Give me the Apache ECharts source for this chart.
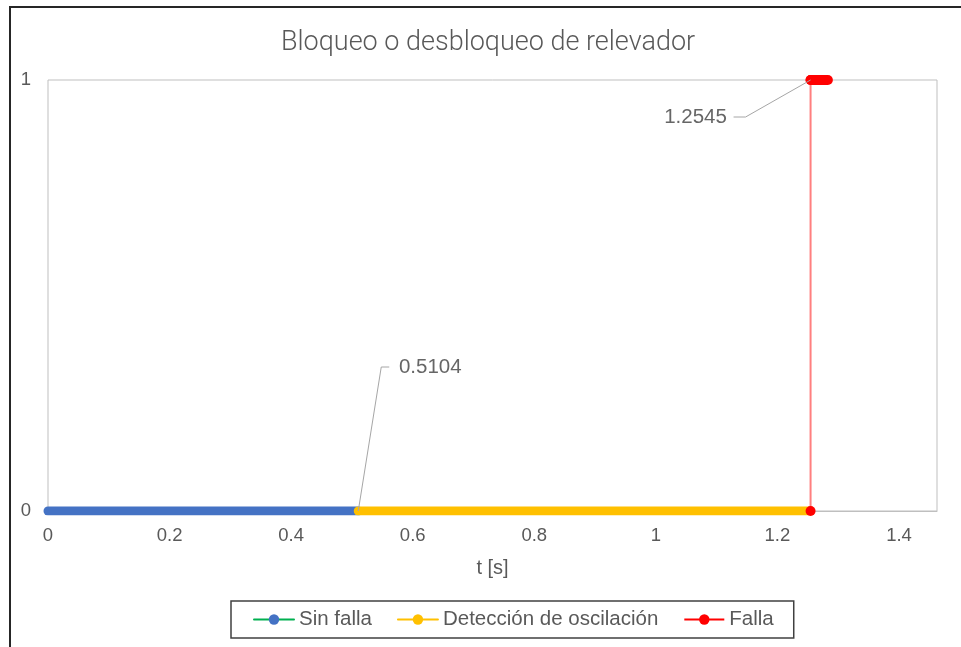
<!DOCTYPE html>
<html>
<head>
<meta charset="utf-8">
<title>Bloqueo o desbloqueo de relevador</title>
<script src="https://cdn.jsdelivr.net/npm/echarts@6/dist/echarts.min.js"></script>
<style>
  html, body { margin: 0; padding: 0; background: #fff; overflow: hidden; }
  #chart { position: absolute; left: 0; top: 0; width: 961px; height: 647px; }
  #frame {
    position: absolute; left: 9px; top: 6px; width: 1000px; height: 700px;
    border-left: 2px solid #262626; border-top: 2px solid #262626;
    pointer-events: none;
  }
</style>
</head>
<body>
<div id="chart"></div>
<div id="frame"></div>
<script>
// Relay state segments: [t (s), state]
const sinFalla = [[0, 0], [0.5104, 0]];
const deteccion = [[0.5104, 0], [1.2545, 0]];
const fallaSalto = [[1.2545, 0], [1.2545, 1]];
const fallaBloqueo = [[1.2545, 1], [1.283, 1]];
// Switching instants that get a value label
const transiciones = [[0.5104, 0], [1.2545, 1]];

const xTicks = { min: 0, max: 1.4625, interval: 0.2 };
const yTicks = { min: 0, max: 1, interval: 1 };

const FONT = '"Liberation Sans", Arial, sans-serif';
const GRAY = '#595959';

// Label offsets (px) from each switching point, and the elbow of its leader line
const labelOffset = [[72, -144], [-115, 37]];
const leaderBends = [
  [[23, -144], [31, -144]],
  [[-65, 37], [-77, 37]]
];

const chart = echarts.init(document.getElementById('chart'), null, { renderer: 'canvas' });

chart.setOption({
  animation: false,
  backgroundColor: '#ffffff',
  title: {
    text: 'Bloqueo o desbloqueo de relevador',
    left: 281,
    top: 30,
    padding: 0,
    textStyle: { fontFamily: 'Roboto, ' + FONT, fontWeight: 300, fontSize: 27, color: GRAY }
  },
  grid: {
    left: 48, right: 24, top: 80, bottom: 136,
    show: true, borderColor: '#BFBFBF', borderWidth: 1
  },
  legend: {
    left: 231, top: 601,
    padding: [8, 20, 8, 22],
    itemGap: 25,
    itemWidth: 40, itemHeight: 13,
    borderColor: '#404040', borderWidth: 1.5,
    textStyle: { fontFamily: FONT, fontSize: 20.5, color: GRAY },
    data: [
      { name: 'Sin falla', lineStyle: { color: '#00B050', width: 2, opacity: 1 }, itemStyle: { color: '#4472C4' } },
      { name: 'Detección de oscilación', lineStyle: { color: '#FFC000', width: 2, opacity: 1 }, itemStyle: { color: '#FFC000' } },
      { name: 'Falla', lineStyle: { color: '#FF0000', width: 2, opacity: 1 }, itemStyle: { color: '#FF0000' } }
    ]
  },
  xAxis: {
    type: 'value',
    min: xTicks.min, max: xTicks.max, interval: xTicks.interval,
    name: 't [s]',
    nameLocation: 'middle',
    nameGap: 47,
    nameTextStyle: { fontFamily: FONT, fontSize: 20, color: GRAY },
    axisLine: { show: true, lineStyle: { color: '#BFBFBF', width: 1 } },
    axisTick: { show: false },
    splitLine: { show: false },
    axisLabel: {
      margin: 15, showMaxLabel: false,
      fontFamily: FONT, fontSize: 18.5, color: GRAY
    }
  },
  yAxis: {
    type: 'value',
    min: yTicks.min, max: yTicks.max, interval: yTicks.interval,
    axisLine: { show: false },
    axisTick: { show: false },
    splitLine: { show: false },
    axisLabel: { margin: 17, fontFamily: FONT, fontSize: 18.5, color: GRAY }
  },
  series: [
    {
      name: 'Sin falla', type: 'line', data: sinFalla,
      symbol: 'circle', showSymbol: false,
      lineStyle: { color: '#4472C4', width: 9, cap: 'round' },
      itemStyle: { color: '#4472C4' }
    },
    {
      name: 'Detección de oscilación', type: 'line', data: deteccion,
      symbol: 'circle', showSymbol: false,
      lineStyle: { color: '#FFC000', width: 9, cap: 'round' },
      itemStyle: { color: '#FFC000' }
    },
    {
      name: 'Falla', type: 'line', data: fallaSalto,
      symbol: 'circle', symbolSize: 10, showSymbol: true,
      lineStyle: { color: '#FF0000', width: 2, opacity: 0.5 },
      itemStyle: { color: '#FF0000' },
      z: 3
    },
    {
      name: 'Falla', type: 'line', data: fallaBloqueo,
      symbol: 'circle', showSymbol: false,
      lineStyle: { color: '#FF0000', width: 10, cap: 'round' },
      itemStyle: { color: '#FF0000' },
      z: 4
    },
    {
      name: 'etiquetas', type: 'scatter', data: transiciones,
      symbol: 'circle', symbolSize: 2,
      itemStyle: { color: 'rgba(0,0,0,0)' },
      silent: true, z: 5,
      label: {
        show: true, position: 'inside',
        fontFamily: FONT, fontSize: 20.5, color: '#404040',
        formatter: (p) => p.value[0].toFixed(4)
      },
      labelLayout: (p) => ({ dx: labelOffset[p.dataIndex][0], dy: labelOffset[p.dataIndex][1] })
    }
  ]
});

// Leader lines: from each switching point to an elbow, then a short horizontal stub
chart.setOption({
  graphic: transiciones.map((pt, i) => {
    const p = chart.convertToPixel({ gridIndex: 0 }, pt);
    const b = leaderBends[i];
    return {
      type: 'polyline', silent: true, z: 10,
      shape: { points: [p, [p[0] + b[0][0], p[1] + b[0][1]], [p[0] + b[1][0], p[1] + b[1][1]]] },
      style: { stroke: '#A6A6A6', lineWidth: 1, fill: null }
    };
  })
});
</script>
</body>
</html>
